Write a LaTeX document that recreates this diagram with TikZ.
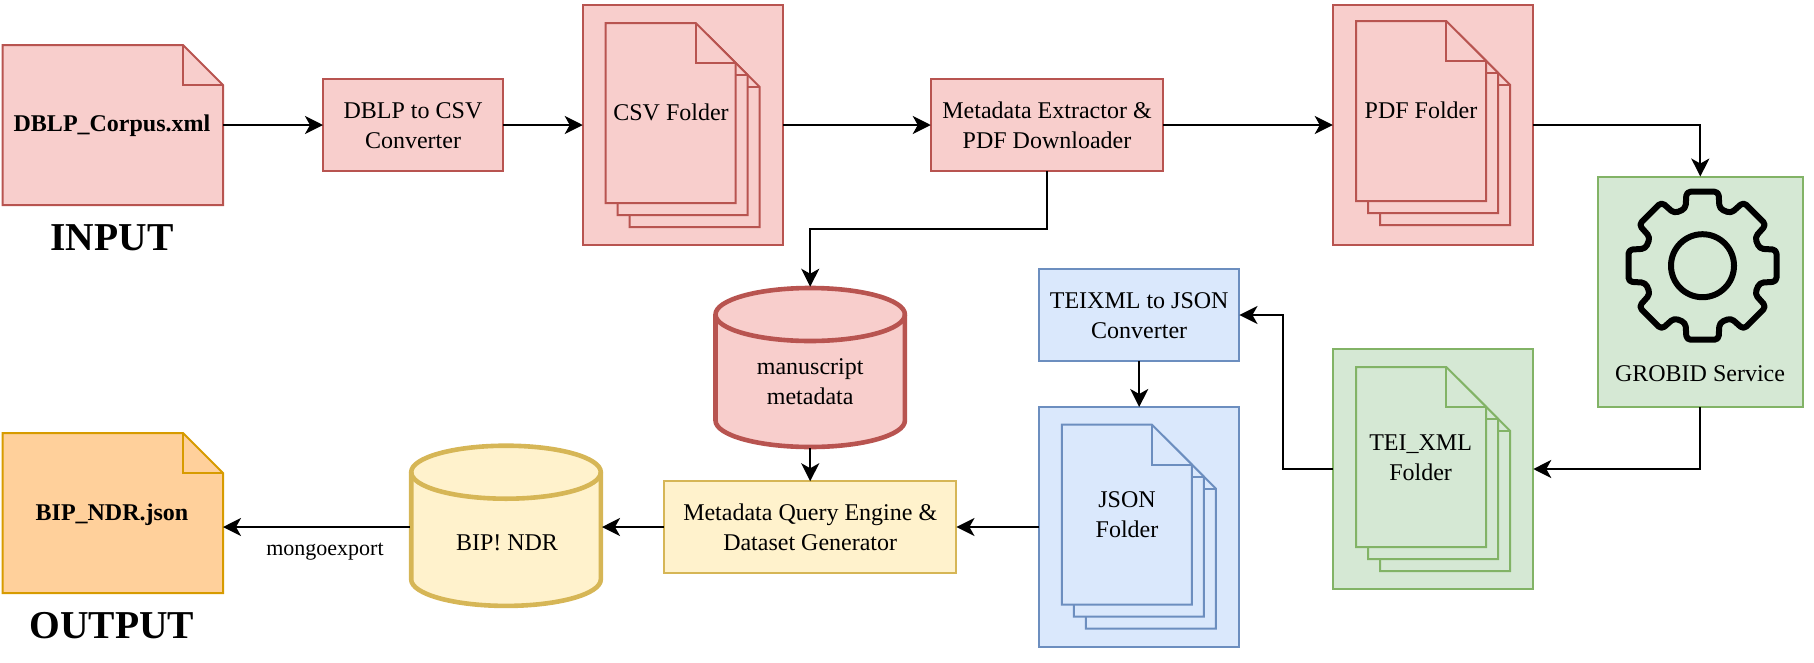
\documentclass[tikz,border=0pt]{standalone}
\usepackage{fontspec}
\setmainfont{Liberation Serif}
\usetikzlibrary{arrows.meta,calc}
\definecolor{redF}{HTML}{F8CECC}\definecolor{redS}{HTML}{B85450}
\definecolor{grnF}{HTML}{D5E8D4}\definecolor{grnS}{HTML}{82B366}
\definecolor{bluF}{HTML}{DAE8FC}\definecolor{bluS}{HTML}{6C8EBF}
\definecolor{yelF}{HTML}{FFF2CC}\definecolor{yelS}{HTML}{D6B656}
\definecolor{orgF}{HTML}{FFD09B}\definecolor{orgS}{HTML}{D79B00}
\newcommand\topfix{\rule{0pt}{18pt}}
\tikzset{
  red/.style={fill=redF,draw=redS},
  grn/.style={fill=grnF,draw=grnS},
  blu/.style={fill=bluF,draw=bluS},
  yel/.style={fill=yelF,draw=yelS},
  org/.style={fill=orgF,draw=orgS},
  edge/.style={line width=2pt,line join=miter},
  boxn/.style={edge,rectangle,inner sep=0pt,outer sep=0pt,align=center,
     font=\fontsize{24}{30}\selectfont},
  proc/.style={boxn,minimum width=#1,minimum height=91.5pt},
  folder/.style={boxn,minimum width=200.5pt,minimum height=240pt},
  anchorbox/.style={rectangle,inner sep=0pt,outer sep=0pt},
  lbl/.style={inner sep=0pt,outer sep=0pt,align=center,font=\fontsize{24}{30}\selectfont},
  blbl/.style={lbl,font=\fontsize{24}{30}\selectfont\bfseries},
  title/.style={lbl,font=\fontsize{39.5}{44}\selectfont\bfseries},
  small/.style={lbl,font=\fontsize{22}{26}\selectfont},
  conn/.style={line width=2.3pt,black,-{Stealth[length=18pt,width=18pt,inset=5pt]}},
  cylline/.style={line width=4.6pt,line join=round},
}
% x, y, width, height, fold, style
\newcommand\docpage[6]{%
  \path[edge,#6] (#1,#2) -- (#1+#3-#5,#2) -- (#1+#3,#2+#5) -- (#1+#3,#2+#4) -- (#1,#2+#4) -- cycle;
  \path[edge,#6,fill=none] (#1+#3-#5,#2) -- (#1+#3-#5,#2+#5) -- (#1+#3,#2+#5);}
\newcommand\docstack[3]{%
  \docpage{#1+24}{#2+24}{130}{180}{40}{#3}
  \docpage{#1+12}{#2+12}{130}{180}{40}{#3}
  \docpage{#1}{#2}{130}{180}{40}{#3}}
% west x, top y, rx, height, ry, style
\newcommand\cylinder[6]{%
  \path[cylline,#6] (#1,#2+#5) arc[start angle=180,end angle=0,x radius=#3pt,y radius=#5pt]
     -- (#1+2*#3,#2+#4-#5) arc[start angle=0,end angle=-180,x radius=#3pt,y radius=#5pt] -- cycle;
  \path[cylline,#6,fill=none] (#1,#2+#5) arc[start angle=180,end angle=360,x radius=#3pt,y radius=#5pt];}
\begin{document}
\begin{tikzpicture}[x=1pt,y=-1pt]
\useasboundingbox (0,0) rectangle (1814,662);

% input / output documents
\docpage{2.7}{45}{220.3}{160}{40}{red}
\node[anchorbox,minimum width=220.3pt,minimum height=160pt] (dblpfile) at (112.85,125) {};
\node[blbl] (dblptext) at (112,126) {DBLP\_Corpus.xml};
\node[title] (inputtitle) at (112,238) {INPUT};

\docpage{2.7}{433}{220.3}{160}{40}{org}
\node[anchorbox,minimum width=220.3pt,minimum height=160pt] (bipfile) at (112.85,513) {};
\node[blbl] (biptext) at (112,515) {BIP\_NDR.json};
\node[title] (outputtitle) at (112,626) {OUTPUT};

% top row
\node[proc=180pt,red] (conv) at (413,125) {\topfix DBLP to CSV\\Converter};
\node[folder,red] (csv) at (683,125) {};
\docstack{605.7}{23}{red}
\node[lbl] (csvtext) at (671,112) {CSV Folder};
\node[proc=232.5pt,red] (extract) at (1047,125) {\topfix Metadata Extractor \&\\PDF Downloader};
\node[folder,red] (pdf) at (1433,125) {};
\docstack{1356.2}{21}{red}
\node[lbl] (pdftext) at (1421,110.5) {PDF Folder};

% GROBID
\node[boxn,grn,minimum width=205.5pt,minimum height=230.5pt] (grobid) at (1700.3,291.8) {};
\coordinate (gear) at (1702.5,265.7);
\draw[line width=6pt,rounded corners=4pt,line join=round]
  ($(gear)+(0-16.6:59.5)$) -- ($(gear)+(0-12.2:75.7)$) -- ($(gear)+(0+12.2:75.7)$) -- ($(gear)+(0+16.6:59.5)$)
  \foreach \a in {45,90,...,315} {
   -- ($(gear)+(\a-16.6:59.5)$) -- ($(gear)+(\a-12.2:75.7)$) -- ($(gear)+(\a+12.2:75.7)$) -- ($(gear)+(\a+16.6:59.5)$)
  } -- cycle;
\draw[line width=6pt] (gear) circle[radius=31.5pt];
\node[lbl] (grobidtext) at (1700,373.5) {GROBID Service};

% TEI
\node[folder,grn] (tei) at (1433,469) {};
\docstack{1356.2}{367}{grn}
\node[lbl] (teitext) at (1420.6,457.5) {TEI\_XML\\Folder};
\node[proc=200.5pt,blu] (teix) at (1139.2,315) {\topfix TEIXML to JSON\\Converter};

% JSON
\node[folder,blu] (json) at (1139.2,527) {};
\docstack{1061.8}{424.6}{blu}
\node[lbl] (jsontext) at (1127,515) {JSON\\Folder};

% query, cylinders
\cylinder{715.5}{288}{94.7}{159}{26.5}{red}
\node[anchorbox,minimum width=192pt,minimum height=161.5pt] (ms) at (810.2,367.5) {};
\node[lbl] (mstext) at (810.2,382) {manuscript\\metadata};
\node[proc=292.5pt,yel] (query) at (810.2,527) {\topfix Metadata Query Engine \&\\Dataset Generator};
\cylinder{411.2}{445.7}{94.8}{160.2}{26.5}{yel}
\node[anchorbox,minimum width=192pt,minimum height=162.5pt] (bip) at (506,525.75) {};
\node[lbl] (biplabel) at (507,543) {BIP! NDR};
\node[small] (mongo) at (325,552) {mongoexport};

% connectors
\coordinate (j1) at (900,229);
\coordinate (j2) at (1283,390);
\draw[conn] (dblpfile.east) -- (conv.west);
\draw[conn] (conv.east) -- (csv.west);
\draw[conn] (csv.east) -- (extract.west);
\draw[conn] (extract.east) -- (pdf.west);
\draw[conn] (extract.south) |- (j1) -| (ms.north);
\draw[conn] (pdf.east) -| (grobid.north);
\draw[conn] (grobid.south) |- (tei.east);
\draw[conn] (tei.west) -| (j2) |- (teix.east);
\draw[conn] (teix.south) -- (json.north);
\draw[conn] (json.west) -- (query.east);
\draw[conn] (ms.south) -- (query.north);
\draw[conn] (query.west) -- (bip.east |- query.west);
\draw[conn] (bip.west |- query.west) -- (bipfile.east |- query.west);
\end{tikzpicture}
\end{document}
